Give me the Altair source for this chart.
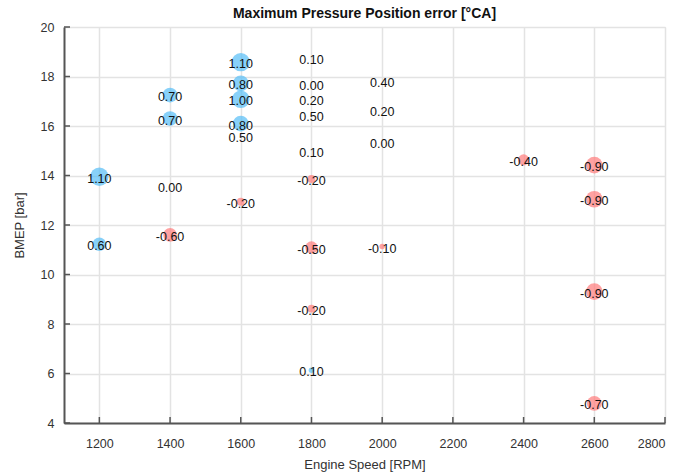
import altair as alt
import pandas as pd

# Points with a marker
pt_rpm = [1200, 1200, 1400, 1400, 1400, 1600, 1600, 1600, 1600, 1600,
          1800, 1800, 1800, 1800, 2000, 2400, 2600, 2600, 2600, 2600]
pt_bmep = [13.95, 11.22, 17.25, 16.3, 11.6, 18.58, 17.72, 17.08, 16.1, 12.94,
           13.86, 11.09, 8.62, 6.13, 11.13, 14.63, 14.42, 13.04, 9.31, 4.79]
pt_err = [1.10, 0.60, 0.70, 0.70, -0.60, 1.10, 0.80, 1.00, 0.80, -0.20,
          -0.20, -0.50, -0.20, 0.10, -0.10, -0.40, -0.90, -0.90, -0.90, -0.70]

# Labels without a marker
lb_rpm = [1400, 1600, 1800, 1800, 1800, 1800, 1800, 2000, 2000, 2000]
lb_bmep = [13.48, 15.52, 18.66, 17.62, 17.0, 16.35, 14.9, 17.72, 16.57, 15.27]
lb_err = [0.00, 0.50, 0.10, 0.00, 0.20, 0.50, 0.10, 0.40, 0.20, 0.00]

x_ticks = [1200, 1400, 1600, 1800, 2000, 2200, 2400, 2600, 2800]
y_ticks = [4, 6, 8, 10, 12, 14, 16, 18, 20]

pts = pd.DataFrame({"rpm": pt_rpm, "bmep": pt_bmep, "err": pt_err})
pts["abs"] = pts["err"].abs()
pts["sign"] = ["pos" if v > 0 else "neg" for v in pts["err"]]
pts["label"] = [f"{v:.2f}" for v in pts["err"]]

lbs = pd.DataFrame({"rpm": lb_rpm, "bmep": lb_bmep, "err": lb_err})
lbs["label"] = [f"{v:.2f}" for v in lbs["err"]]

W, H = 601, 396
FONT = "Liberation Sans"

xs = alt.Scale(domain=[1100, 2800], nice=False, zero=False)
ys = alt.Scale(domain=[4, 20], nice=False, zero=False)

x_axis = alt.Axis(values=x_ticks, format="d", title="Engine Speed [RPM]", grid=True, gridColor="#e3e3e3",
                  gridWidth=1.5, ticks=False, domainColor="#555555", domainWidth=2,
                  labelFont=FONT, labelFontSize=12.5, labelColor="#333333", labelPadding=14,
                  titleFont=FONT, titleFontSize=13, titleFontWeight="normal", titleColor="#333333",
                  titlePadding=9)
y_axis = alt.Axis(values=y_ticks, format="d", title="BMEP [bar]", grid=True, gridColor="#e3e3e3",
                  gridWidth=1.5, ticks=False, domainColor="#555555", domainWidth=2,
                  labelFont=FONT, labelFontSize=12.5, labelColor="#333333", labelPadding=10,
                  titleFont=FONT, titleFontSize=13, titleFontWeight="normal", titleColor="#333333",
                  titlePadding=14)

base_pts = alt.Chart(pts)

circles = base_pts.mark_circle(opacity=0.7, stroke=None).encode(
    x=alt.X("rpm:Q", scale=xs, axis=x_axis),
    y=alt.Y("bmep:Q", scale=ys, axis=y_axis),
    size=alt.Size("abs:Q", scale=alt.Scale(domain=[0, 1.1], range=[0, 340], zero=True), legend=None),
    color=alt.Color("sign:N", scale=alt.Scale(domain=["pos", "neg"], range=["#55BDF6", "#FF7A7A"]),
                    legend=None),
)

pt_text = base_pts.mark_text(font=FONT, fontSize=12.5, color="#111111", baseline="middle",
                             align="center", dy=2).encode(
    x=alt.X("rpm:Q", scale=xs), y=alt.Y("bmep:Q", scale=ys), text="label:N")

lb_text = alt.Chart(lbs).mark_text(font=FONT, fontSize=12.5, color="#111111", baseline="middle",
                                   align="center").encode(
    x=alt.X("rpm:Q", scale=xs), y=alt.Y("bmep:Q", scale=ys), text="label:N")

xt = pd.DataFrame({"v": x_ticks})
yt = pd.DataFrame({"v": y_ticks})
x_tick_marks = alt.Chart(xt).mark_rule(color="#555555", strokeWidth=1.5).encode(
    x=alt.X("v:Q", scale=xs), y=alt.value(H), y2=alt.value(H - 6))
y_tick_marks = alt.Chart(yt).mark_rule(color="#555555", strokeWidth=1.5).encode(
    y=alt.Y("v:Q", scale=ys), x=alt.value(0), x2=alt.value(6))

chart = alt.layer(circles, x_tick_marks, y_tick_marks, pt_text, lb_text).properties(
    width=W, height=H,
    title=alt.Title("Maximum Pressure Position error [°CA]", font=FONT, fontSize=14,
                    fontWeight="bold", color="#111111", anchor="middle", offset=0),
    autosize=alt.AutoSizeParams(type="none"),
    padding={"left": 64, "top": 27, "right": 31, "bottom": 53},
).configure_view(stroke=None).configure(background="white")

chart.save("out.html", embed_options={"renderer": "svg", "actions": False})
